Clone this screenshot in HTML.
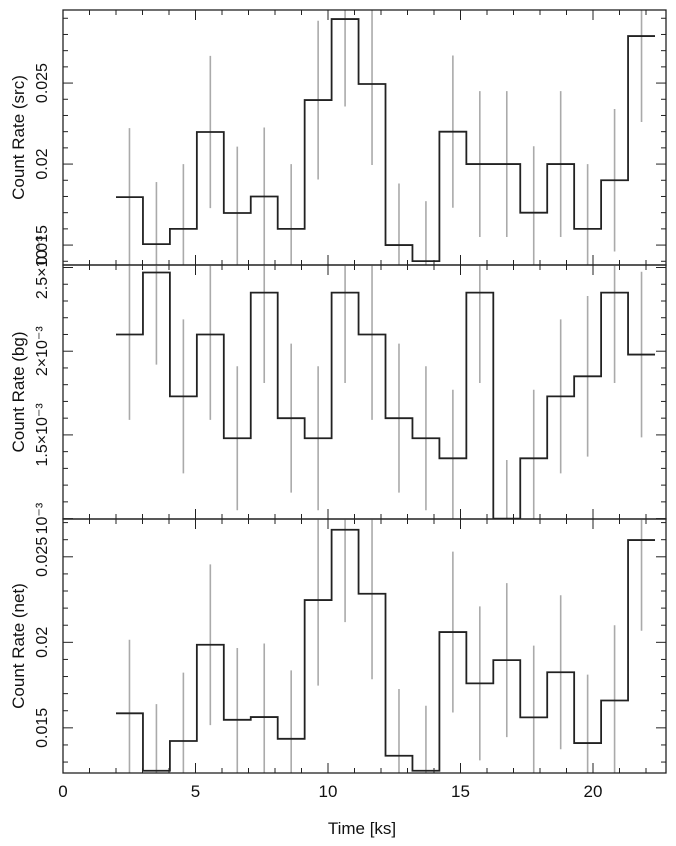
<!DOCTYPE html>
<html><head><meta charset="utf-8"><style>
html,body{margin:0;padding:0;background:#fff}
svg{display:block;font-family:"Liberation Sans",Arial,sans-serif}
</style></head><body>
<svg id="chart" width="676" height="846" viewBox="0 0 676 846" xmlns="http://www.w3.org/2000/svg"></svg>
<script>
const binStart = 2.0;
const binWidth = 1.017;
const srcValues = [0.01796,0.01506,0.0160,0.02198,0.01698,0.0180,0.0160,0.02395,0.02895,0.02494,0.0150,0.01401,0.0220,0.0200,0.0200,0.0170,0.0200,0.0160,0.0190,0.0279];
const srcErrors = [0.00426,0.00383,0.0040,0.0047,0.0041,0.00426,0.0040,0.0049,0.0054,0.0050,0.0038,0.0037,0.0047,0.0045,0.0045,0.0041,0.0045,0.0040,0.0044,0.0053];
const bgValues = [2.10e-3,2.47e-3,1.73e-3,2.10e-3,1.48e-3,2.35e-3,1.60e-3,1.48e-3,2.35e-3,2.10e-3,1.60e-3,1.48e-3,1.36e-3,2.35e-3,1.00e-3,1.36e-3,1.73e-3,1.85e-3,2.35e-3,1.98e-3];
const bgErrors = [5.1e-4,5.5e-4,4.6e-4,5.1e-4,4.3e-4,5.4e-4,4.45e-4,4.3e-4,5.4e-4,5.1e-4,4.45e-4,4.3e-4,4.1e-4,5.4e-4,3.5e-4,4.1e-4,4.6e-4,4.8e-4,5.4e-4,4.95e-4];
const netValues = [0.01585,0.01249,0.01423,0.01986,0.01547,0.01563,0.01436,0.02247,0.02658,0.02284,0.01337,0.01249,0.0206,0.0176,0.01896,0.01561,0.01825,0.01411,0.0166,0.02598];
const netErrors = [0.0043,0.0039,0.0040,0.0047,0.0042,0.0043,0.0040,0.0050,0.0054,0.0050,0.0039,0.0038,0.0047,0.0045,0.0045,0.0042,0.0045,0.0040,0.0044,0.0053];
const xTicks = [0,5,10,15,20];
const srcTicks = [0.015,0.02,0.025];
const srcTickLabels = ["0.015","0.02","0.025"];
const bgTicks = [1e-3,1.5e-3,2e-3,2.5e-3];
const bgTickLabels = ["10\u207B\u00B3","1.5\u00D710\u207B\u00B3","2\u00D710\u207B\u00B3","2.5\u00D710\u207B\u00B3"];
const netTicks = [0.015,0.02,0.025];
const netTickLabels = ["0.015","0.02","0.025"];

const svg = document.getElementById('chart');
const NS = 'http://www.w3.org/2000/svg';
const X0 = 63, X1 = 666;
const xMin = 0, xMax = (X1 - X0) / 26.5;
const xs = v => X0 + (v - xMin) / (xMax - xMin) * (X1 - X0);
function mk(tag, attrs, parent){
  const e = document.createElementNS(NS, tag);
  for (const k in attrs) e.setAttribute(k, attrs[k]);
  (parent || svg).appendChild(e);
  return e;
}
const panels = [
  {name:'src', top:10, bot:265, ymin:0.01377, ymax:0.02951, vals:srcValues, errs:srcErrors, ticks:srcTicks, labels:srcTickLabels, minor:0.001, title:'Count Rate (src)'},
  {name:'bg', top:265, bot:519, ymin:0.9976e-3, ymax:2.515e-3, vals:bgValues, errs:bgErrors, ticks:bgTicks, labels:bgTickLabels, minor:1e-4, title:'Count Rate (bg)'},
  {name:'net', top:519, bot:773, ymin:0.01236, ymax:0.02721, vals:netValues, errs:netErrors, ticks:netTicks, labels:netTickLabels, minor:0.001, title:'Count Rate (net)'}
];
panels.forEach(p => {
  const g = mk('g', {});
  
  
  const ys = v => p.bot - (v - p.ymin) / (p.ymax - p.ymin) * (p.bot - p.top);
  const clipId = 'clip-' + p.name;
  const cp = mk('clipPath', {id: clipId}, g);
  mk('rect', {x: X0, y: p.top, width: X1 - X0, height: p.bot - p.top}, cp);
  const data = mk('g', {'clip-path': 'url(#' + clipId + ')'}, g);
  // error bars
  p.vals.forEach((v, i) => {
    const xc = xs(binStart + (i + 0.5) * binWidth);
    const l = mk('line', {x1: xc, x2: xc, y1: ys(v - p.errs[i]), y2: ys(v + p.errs[i]), stroke: '#aaa', 'stroke-width': 1.6}, data);
    
    
  });
  // step line
  let d = '';
  p.vals.forEach((v, i) => {
    const xa = xs(binStart + i * binWidth), xb = xs(binStart + (i + 1) * binWidth);
    d += (i === 0 ? 'M' : 'L') + xa + ',' + ys(v) + 'L' + xb + ',' + ys(v);
  });
  const path = mk('path', {d: d, fill: 'none', stroke: '#222', 'stroke-width': 1.8}, data);
  
  
  // y minor/major ticks
  const startT = Math.ceil(p.ymin / p.minor - 1e-6);
  for (let k = startT; k * p.minor <= p.ymax + 1e-12; k++) {
    const v = k * p.minor, y = ys(v);
    const major = p.ticks.some(t => Math.abs(t - v) < p.minor * 0.01);
    const len = major ? 10 : 5;
    mk('line', {x1: X0, x2: X0 + len, y1: y, y2: y, stroke: '#222', 'stroke-width': 1}, g);
    mk('line', {x1: X1, x2: X1 - len, y1: y, y2: y, stroke: '#222', 'stroke-width': 1}, g);
  }
  // x ticks
  for (let t = 0; t <= 22; t++) {
    const x = xs(t), len = t % 5 === 0 ? 10 : 5;
    mk('line', {x1: x, x2: x, y1: p.top, y2: p.top + len, stroke: '#222', 'stroke-width': 1}, g);
    mk('line', {x1: x, x2: x, y1: p.bot, y2: p.bot - len, stroke: '#222', 'stroke-width': 1}, g);
  }
  // frame
  const fr = mk('rect', {x: X0, y: p.top, width: X1 - X0, height: p.bot - p.top, fill: 'none', stroke: '#222', 'stroke-width': 1.3}, g);
  
  
  // y tick labels
  p.ticks.forEach((t, i) => {
    const y = ys(t);
    const tx = mk('text', {x: 0, y: 0, transform: 'translate(47,' + y + ') rotate(-90)', 'text-anchor': 'middle', 'font-size': 16, fill: '#111'}, g);
    tx.textContent = p.labels[i];
    
    
  });
  const title = mk('text', {x: 0, y: 0, transform: 'translate(24,' + ((p.top + p.bot) / 2) + ') rotate(-90)', 'text-anchor': 'middle', 'font-size': 17, fill: '#111'}, g);
  title.textContent = p.title;
  
  
});
xTicks.forEach(t => {
  const tx = mk('text', {x: xs(t), y: 797, 'text-anchor': 'middle', 'font-size': 17, fill: '#111'});
  tx.textContent = String(t);
  
  
});
const xt = mk('text', {x: 362, y: 834, 'text-anchor': 'middle', 'font-size': 17, fill: '#111'});
xt.textContent = 'Time [ks]';


</script>
</body></html>
